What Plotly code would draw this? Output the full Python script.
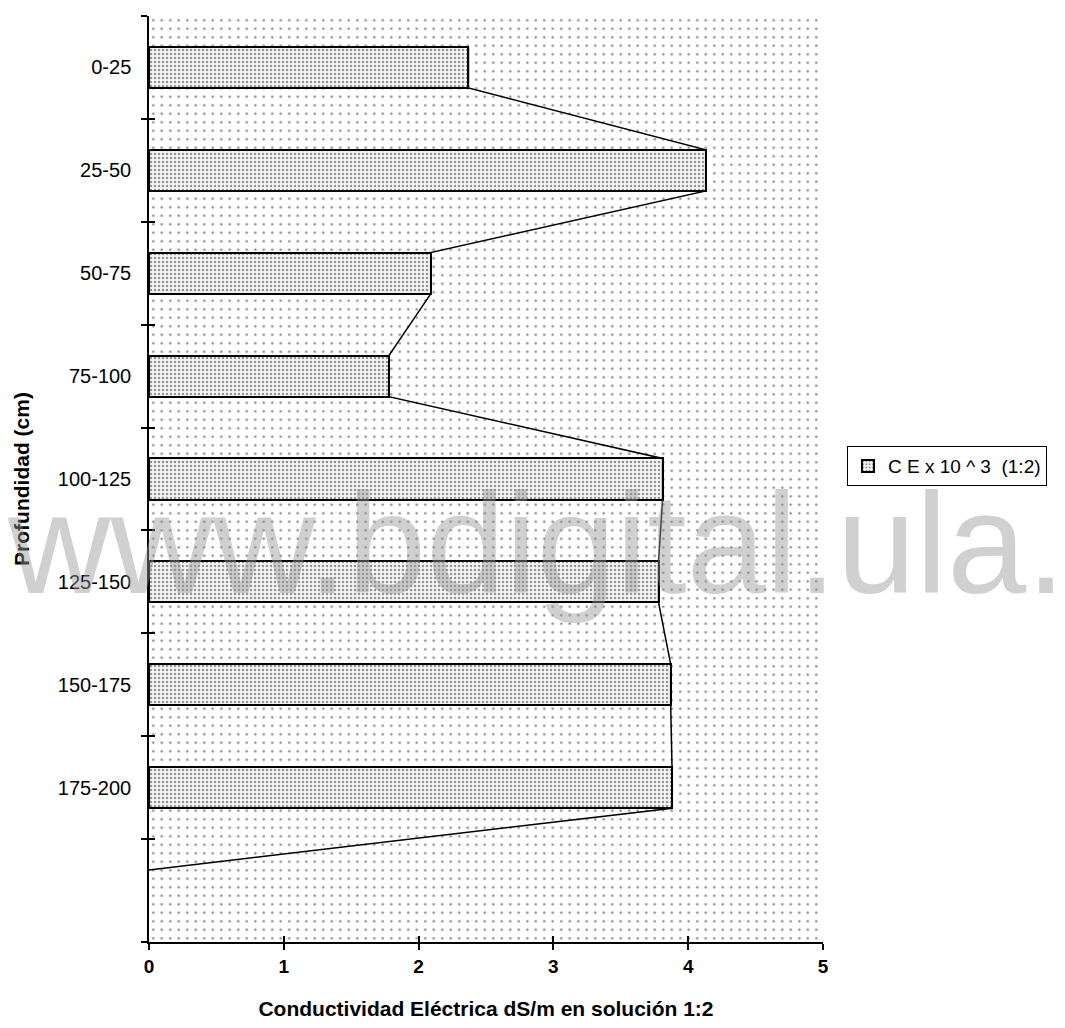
import plotly.graph_objects as go

# Electrical conductivity (1:2 extract) by soil depth
depths = ["0-25", "25-50", "50-75", "75-100", "100-125", "125-150", "150-175", "175-200"]
ce_values = [2.37, 4.13, 2.09, 1.78, 3.81, 3.78, 3.87, 3.88]
x_ticks = [0, 1, 2, 3, 4, 5]
closing_value = 0  # profile returns to the axis in the empty slot below the last depth

series_name = "C E x 10 ^ 3  (1:2)"
x_max = 5
n_slots = len(depths) + 1          # one empty slot below the deepest layer
bar_width = 0.4
half = bar_width / 2
positions = list(range(len(depths)))

# profile line running along the ends of the bars
line_x, line_y = [], []
for p, v in zip(positions, ce_values):
    line_x += [v, v]
    line_y += [p - half, p + half]
line_x.append(closing_value)
line_y.append(len(depths) - half)

FONT = "Liberation Sans, Arial, sans-serif"

fig = go.Figure()

# dotted plot-area background
fig.add_trace(go.Bar(
    x=[x_max], y=[(n_slots - 1) / 2], width=n_slots, orientation="h",
    marker=dict(color="white", line=dict(width=0),
                pattern=dict(shape=".", size=8.5, solidity=0.07,
                             fgcolor="#111111", bgcolor="white")),
    showlegend=False, hoverinfo="skip",
))

# depth bars
fig.add_trace(go.Bar(
    x=ce_values, y=positions, width=bar_width, orientation="h",
    name=series_name,
    marker=dict(color="white", line=dict(color="black", width=2),
                pattern=dict(shape=".", size=4, solidity=0.3,
                             fgcolor="#333333", bgcolor="#f4f4f4")),
))

# profile outline
fig.add_trace(go.Scatter(
    x=line_x, y=line_y, mode="lines",
    line=dict(color="black", width=1.5),
    showlegend=False, hoverinfo="skip",
))

# helper trace carrying the overlay axes (inner halves of the crossing ticks)
fig.add_trace(go.Scatter(
    x=[0], y=[0], xaxis="x2", yaxis="y2", mode="markers",
    marker=dict(size=1, opacity=0),
    showlegend=False, hoverinfo="skip",
))

boundaries = [k - 0.5 for k in range(n_slots + 1)]
y_range = [n_slots - 0.5, -0.5]

fig.update_layout(
    width=1065, height=1028,
    margin=dict(l=149, r=242, t=16, b=86),
    paper_bgcolor="white", plot_bgcolor="white",
    barmode="overlay", bargap=0,
    font=dict(family=FONT, size=20, color="black"),
    legend=dict(
        x=1.0356, y=0.514, xanchor="left", yanchor="middle",
        bordercolor="black", borderwidth=1, bgcolor="white",
        font=dict(family=FONT, size=19, color="black"),
        itemwidth=30,
    ),
    xaxis=dict(
        range=[0, x_max], tickvals=x_ticks, ticktext=[str(t) for t in x_ticks],
        showgrid=False, zeroline=False,
        showline=True, linecolor="black", linewidth=1.5,
        ticks="outside", ticklen=6, tickwidth=1.5, tickcolor="black",
        tickfont=dict(family=FONT, size=19, color="black", weight="bold"),
        title=dict(text="<b>Conductividad Eléctrica dS/m en solución 1:2</b>",
                   font=dict(family=FONT, size=21), standoff=26),
    ),
    yaxis=dict(
        range=y_range, tickmode="array", tickvals=positions, ticktext=depths,
        ticks="", showgrid=False, zeroline=False,
        showline=True, linecolor="black", linewidth=1.5,
        minor=dict(tickmode="array", tickvals=boundaries, ticks="outside",
                   ticklen=6, tickwidth=1.5, tickcolor="black", showgrid=False),
        tickfont=dict(family=FONT, size=20, color="black"),
        ticklabelstandoff=12,
        title=dict(text="<b>Profundidad (cm)</b>",
                   font=dict(family=FONT, size=21), standoff=22),
    ),
    xaxis2=dict(
        overlaying="x", anchor="y2", range=[0, x_max], tickvals=x_ticks,
        ticks="inside", ticklen=6, tickwidth=1.5, tickcolor="black",
        showticklabels=False, showgrid=False, zeroline=False, showline=False,
    ),
    yaxis2=dict(
        overlaying="y", anchor="x2", range=y_range, tickvals=boundaries,
        ticks="inside", ticklen=6, tickwidth=1.5, tickcolor="black",
        showticklabels=False, showgrid=False, zeroline=False, showline=False,
    ),
)

# repository watermark across the figure
fig.add_annotation(
    text="www.bdigital.ula.", xref="paper", yref="paper",
    x=-0.214, y=0.43, xanchor="left", yanchor="middle",
    showarrow=False,
    font=dict(family=FONT, size=142, color="rgba(150,150,150,0.45)"),
)

fig.write_html("out.html")
